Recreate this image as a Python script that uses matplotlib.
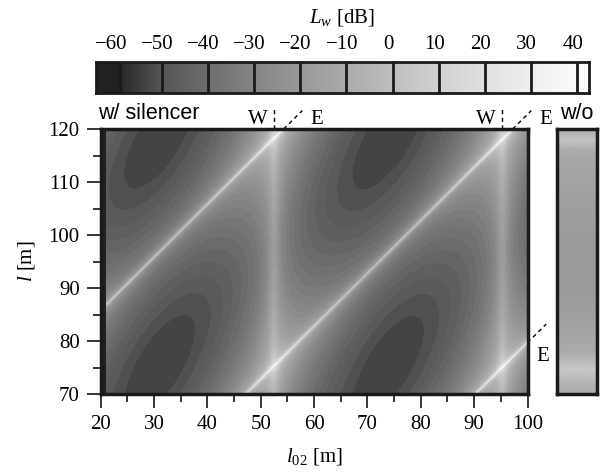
import numpy as np
import matplotlib.pyplot as plt
from matplotlib.colors import LinearSegmentedColormap, Normalize

plt.rcParams['font.family'] = ['Liberation Serif', 'DejaVu Serif']
plt.rcParams['mathtext.fontset'] = 'custom'
plt.rcParams['mathtext.rm'] = 'Liberation Serif'
plt.rcParams['mathtext.it'] = 'Liberation Serif:italic'

# grey scale of the L_w bar (dB -> grey level)
cb_db = [-63.2, -58.0, -57.5, -49, -39, -29, -19, -9, 1, 11, 21, 31, 41, 43.5]
cb_grey = [0.13, 0.13, 0.17, 0.34, 0.43, 0.52, 0.60, 0.67, 0.745, 0.82, 0.88, 0.935, 0.98, 1.0]
cb_edges = [-58, -49, -39, -29, -19, -9, 1, 11, 21, 31, 41]
cb_ticks = [-60, -50, -40, -30, -20, -10, 0, 10, 20, 30, 40]

# w/ silencer map: resonance lines
w_l02 = [9.7, 52.5, 95.3]        # vertical bright lines (W), l02 [m]
e_offset = [65.7, 22.8, -20.3]   # diagonal bright lines (E), l - l02 [m]
w_period = 42.8
e_period = 43.0
peak_db = 37.0            # level where both lines cross
w_drop_db = [31.0, 6.0]   # sharp / broad part of the W term
e_drop_db = [48.0, 6.0]   # sharp / broad part of the E term
w_sharp = 1000.0
e_sharp = 2.0e5
edge_l02 = 21.1           # dark strip at the left edge
edge_db = -63.0

# w/o column, L_w against l
wo_l = [70, 70.3, 71.2, 73.0, 74.6, 77.9, 82.8, 88.9, 98.0, 107.2, 111.5, 115.1, 116.3, 117.9, 119.1, 120]
wo_db = [-7, -7, -7, 0, 6, -9, -14, -18, -18.5, -15, -13, -10, -7, 4, -4, -5]

cmap = LinearSegmentedColormap.from_list(
    'lw', [((d - cb_db[0]) / (cb_db[-1] - cb_db[0]), (g, g, g)) for d, g in zip(cb_db, cb_grey)])
norm = Normalize(cb_db[0], cb_db[-1])

l02 = np.linspace(20, 100, 1201)
l = np.linspace(70, 120, 751)
U, Lg = np.meshgrid(l02, l)
V = Lg - U
a_w = np.sin(np.pi * (U - w_l02[1]) / w_period) ** 2
a_e = np.sin(np.pi * (V - e_offset[1]) / e_period) ** 2
Lw = (peak_db
      - w_drop_db[0] * np.log10(1 + w_sharp * a_w) / np.log10(1 + w_sharp) - w_drop_db[1] * a_w
      - e_drop_db[0] * np.log10(1 + e_sharp * a_e) / np.log10(1 + e_sharp) - e_drop_db[1] * a_e)
Lw[U < edge_l02] = edge_db

fig = plt.figure(figsize=(6, 4.73), dpi=100)
ax = fig.add_axes([0.1675, 0.167, 0.7117, 0.56])
ax.contourf(U, Lg, Lw, levels=np.arange(-64, 46, 2.5), cmap=cmap, norm=norm)
ax.set_xlim(20, 100)
ax.set_ylim(70, 120)
ax.set_xticks(np.arange(20, 101, 10))
ax.set_xticks(np.arange(25, 100, 10), minor=True)
ax.set_yticks(np.arange(70, 121, 10))
ax.set_yticks(np.arange(75, 120, 10), minor=True)
ax.tick_params(which='major', direction='out', length=10, width=1.1, labelsize=15, pad=5)
ax.tick_params(which='minor', direction='out', length=6, width=1.1)
for s in ax.spines.values():
    s.set_linewidth(2.5)
    s.set_color('#1a1a1a')
ax.set_xlabel(r'$l_{\rm 02}$ [m]', fontsize=15, labelpad=9)
ax.set_ylabel(r'$l$ [m]', fontsize=15, labelpad=8)

# W / E markers
dash = dict(color='black', lw=1.0, ls=(0, (3, 2.5)), clip_on=False)
for x in w_l02[1:]:
    ax.plot([x, x], [120, 123.8], **dash)
    ax.text(x - 3.1, 121.8, 'W', fontsize=15, ha='center', va='center')
for off in e_offset[:2]:
    x0 = 120 - off
    ax.plot([x0, x0 + 3.5], [120, 123.5], **dash)
    ax.text(x0 + 6.2, 121.8, 'E', fontsize=15, ha='center', va='center')
y0 = 100 + e_offset[2]
ax.plot([100, 103.5], [y0, y0 + 3.5], **dash)
ax.text(102.9, 77, 'E', fontsize=15, ha='center', va='center', clip_on=False)

fig.text(98 / 600, 1 - 113 / 473, 'w/ silencer', family='Liberation Sans', fontsize=15.5, va='center')
fig.text(577 / 600, 1 - 113 / 473, 'w/o', family='Liberation Sans', fontsize=15.5, va='center', ha='center')

# w/o column
axw = fig.add_axes([557 / 600, 0.167, 40 / 600, 0.56])
axw.pcolormesh([0, 1], wo_l, np.column_stack([wo_db, wo_db]), cmap=cmap, norm=norm, shading='gouraud')
axw.set_ylim(70, 120)
axw.set_xlim(0, 1)
axw.set_xticks([])
axw.set_yticks([])
for s in axw.spines.values():
    s.set_linewidth(2.5)
    s.set_color('#1a1a1a')

# colour bar
axc = fig.add_axes([96 / 600, 1 - 93 / 473, 493 / 600, 31 / 473])
axc.imshow(np.linspace(cb_db[0], cb_db[-1], 600)[None, :], cmap=cmap, norm=norm, aspect='auto',
           extent=[cb_db[0], cb_db[-1], 0, 1])
for e in cb_edges:
    axc.axvline(e, color='#1a1a1a', lw=2)
axc.set_xlim(cb_db[0], cb_db[-1])
axc.set_ylim(0, 1)
axc.set_yticks([])
axc.xaxis.tick_top()
axc.set_xticks(cb_ticks)
axc.tick_params(length=0, labelsize=15, pad=6)
for s in axc.spines.values():
    s.set_linewidth(2)
    s.set_color('#1a1a1a')
fig.text(0.57, 1 - 18 / 473, r'$L_w$ [dB]', fontsize=15, ha='center', va='center')

fig.savefig('out.png', dpi=100)
